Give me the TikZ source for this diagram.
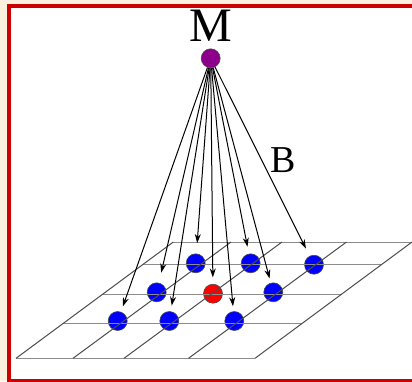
\documentclass[tikz,border=0pt]{standalone}
\usepackage{fontspec}
\setmainfont{Liberation Serif}
\usetikzlibrary{arrows.meta}
\definecolor{bg}{RGB}{250,240,222}
\definecolor{framered}{RGB}{204,0,0}
\definecolor{mpurple}{RGB}{140,0,140}
\tikzset{
 ball/.style={circle, draw=black!70, line width=0.6pt, minimum size=19pt, inner sep=0pt},
 bluey/.style={ball, fill=blue},
 redy/.style={ball, fill=red},
 arr/.style={-{Stealth[length=9pt,width=6pt]}, line width=1pt},
 diag/.style={draw=black!70, line width=1pt},
 hor/.style={draw=black!45, line width=1pt},
 lbl/.style={inner sep=0pt, anchor=base}
}
\begin{document}
\begin{tikzpicture}[x=1pt,y=-1pt]
\useasboundingbox (0,0) rectangle (412,381);
\clip (0,0) rectangle (412,381);
\fill[bg] (0,0) rectangle (412,381);
\draw[framered, line width=4pt, fill=white] (9,6) rectangle (440,380.5);
% balls
\node[bluey] (b1) at (195.7,263.3) {};
\node[bluey] (b2) at (250.7,263.3) {};
\node[bluey] (b3) at (314,264.7) {};
\node[bluey] (b4) at (156.7,292.3) {};
\node[redy]  (r)  at (213,293.7) {};
\node[bluey] (b5) at (273.3,292.3) {};
\node[bluey] (b6) at (117.7,321) {};
\node[bluey] (b7) at (169.3,321) {};
\node[bluey] (b8) at (234.3,321) {};
% grid
\draw[hor] (173.3,242) -- (412,242);
\draw[hor] (142.6,264.7) -- (381.6,264.7);
\draw[hor] (103,294) -- (342,294);
\draw[hor] (63.3,323.3) -- (302.3,323.3);
\draw[hor] (16,358.3) -- (255,358.3);
\draw[diag] (16,358.3) -- (173.3,242);
\draw[diag] (73,358.3) -- (231,242);
\draw[diag] (124,358.3) -- (282,242);
\draw[diag] (188.5,358.3) -- (346.5,242);
\draw[diag] (255,358.3) -- (412,242);
% top
\node[ball, fill=mpurple] (M) at (210.7,58.3) {};
\node[lbl, font=\fontsize{48}{48}\selectfont] (mlabel) at (211.3,41.7) {M};
\node[lbl, font=\fontsize{38}{38}\selectfont] (blabel) at (283,172.7) {B};
% arrows
\draw[arr, shorten >=5.7pt] (M) -- (b6);
\draw[arr, shorten >=5.8pt] (M) -- (b7);
\draw[arr, shorten >=10.4pt] (M) -- (b4);
\draw[arr, shorten >=10.5pt] (M) -- (b1);
\draw[arr, shorten >=7.1pt] (M) -- (b2);
\draw[arr, shorten >=8.3pt] (M) -- (b3);
\draw[arr, shorten >=4.5pt] (M) -- (b5);
\draw[arr, shorten >=5pt] (M) -- (b8);
\draw[arr, shorten >=6.5pt] (M) -- (r);
\end{tikzpicture}
\end{document}
